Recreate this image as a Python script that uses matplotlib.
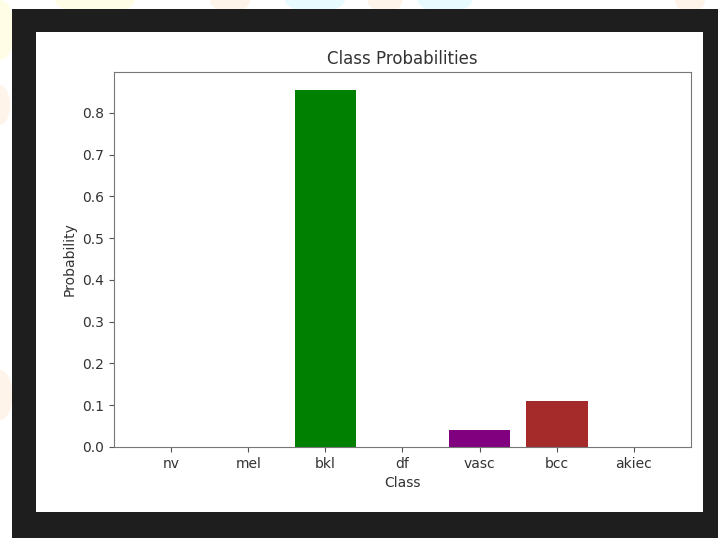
import matplotlib
matplotlib.use("Agg")
import matplotlib.pyplot as plt
from matplotlib.patches import Rectangle, Ellipse
from matplotlib.ticker import MultipleLocator

classes = ["nv", "mel", "bkl", "df", "vasc", "bcc", "akiec"]
probs = [0.0003, 0.0004, 0.855, 0.0002, 0.041, 0.110, 0.0003]
colors = ["blue", "red", "green", "orange", "purple", "brown", "pink"]

W, H = 718, 538
fig = plt.figure(figsize=(W / 100, H / 100), dpi=100)
fig.patch.set_facecolor("white")


def px_rect(x0, y0, x1, y1, color, z):
    # pixel box (top-left origin) -> figure fraction rectangle
    fig.patches.append(Rectangle((x0 / W, 1 - y1 / H), (x1 - x0) / W, (y1 - y0) / H,
                                 transform=fig.transFigure, facecolor=color,
                                 edgecolor="none", zorder=z))


# faint watermark blobs around the screenshot
for cx, cy, w, h, c in [(95, 0, 80, 30, "#fffde6"), (230, 0, 40, 25, "#fff4ea"),
                        (315, 0, 60, 25, "#e8fcff"), (385, 0, 35, 25, "#fff4ea"),
                        (445, 0, 55, 25, "#e8fcff"), (690, 0, 30, 25, "#fff4ea"),
                        (0, 30, 30, 60, "#fffde6"), (0, 105, 20, 40, "#fff4ea"),
                        (0, 395, 25, 50, "#fff4ea")]:
    fig.patches.append(Ellipse((cx / W, 1 - cy / H), w / W, h / H,
                               transform=fig.transFigure, facecolor=c,
                               edgecolor="none", zorder=0))

# dark screen frame and white figure area
px_rect(12, 9, 718, 538, "#1e1e1e", 1)
px_rect(36, 32, 703, 512, "white", 2)

ax = fig.add_axes([114 / W, 1 - 447 / H, (691 - 114) / W, (447 - 72) / H])
ax.set_zorder(3)
ax.bar(classes, probs, color=colors)
ax.yaxis.set_major_locator(MultipleLocator(0.1))
ax.set_title("Class Probabilities", fontsize=12, color="#333333")
ax.set_xlabel("Class", color="#333333")
ax.set_ylabel("Probability", color="#333333")
ax.tick_params(colors="#555555", labelcolor="#333333")
for s in ax.spines.values():
    s.set_edgecolor("#777777")

fig.savefig("out.png", dpi=100)
